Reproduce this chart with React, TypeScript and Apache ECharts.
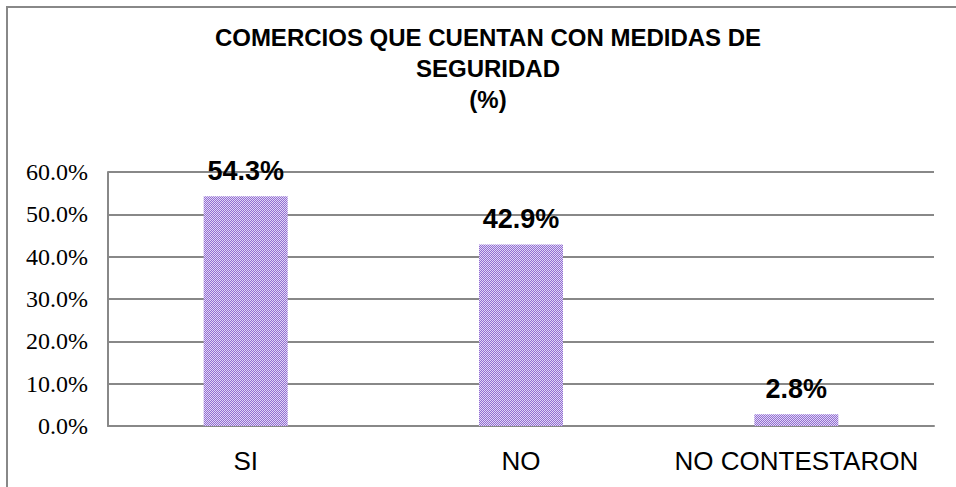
import React, { useEffect, useRef } from "react";
import * as echarts from "echarts";

const categories = ["SI", "NO", "NO CONTESTARON"];
const values = [54.3, 42.9, 2.8];
const yTicks = [0, 10, 20, 30, 40, 50, 60];

function makePattern(): HTMLCanvasElement {
  const c = document.createElement("canvas");
  c.width = 4;
  c.height = 4;
  const ctx = c.getContext("2d")!;
  ctx.fillStyle = "#e2d6f7";
  ctx.fillRect(0, 0, 4, 4);
  ctx.fillStyle = "#9270d0";
  for (let i = 0; i < 4; i++) {
    ctx.fillRect(i, 3 - i, 1, 1);
    ctx.fillRect((i + 2) % 4, 3 - i, 1, 1);
  }
  return c;
}

export default function App() {
  const ref = useRef<HTMLDivElement>(null);
  useEffect(() => {
    if (!ref.current) return;
    const chart = echarts.init(ref.current, undefined, { renderer: "svg" });
    const pattern = makePattern();
    chart.setOption({
      animation: false,
      backgroundColor: "#ffffff",
      title: {
        text: "COMERCIOS QUE CUENTAN CON MEDIDAS DE\nSEGURIDAD\n(%)",
        left: 483,
        top: 17,
        textAlign: "center",
        textStyle: {
          fontFamily: "Liberation Sans",
          fontWeight: "bold",
          fontSize: 24,
          lineHeight: 31,
          color: "#000",
        },
      },
      graphic: [
        {
          type: "rect",
          shape: { x: 7, y: 7, width: 970, height: 500 },
          style: { fill: "none", stroke: "#888888", lineWidth: 2 },
          silent: true,
        },
      ],
      grid: { left: 108, right: 22, top: 172, bottom: 61 },
      xAxis: {
        type: "category",
        data: categories,
        axisLine: { show: true, lineStyle: { color: "#888888", width: 2 } },
        axisTick: { show: false },
        axisLabel: {
          interval: 0,
          hideOverlap: false,
          fontFamily: "Liberation Sans",
          fontSize: 26,
          color: "#000",
          margin: 22,
        },
      },
      yAxis: {
        type: "value",
        min: yTicks[0],
        max: yTicks[yTicks.length - 1],
        interval: 10,
        axisLine: { show: true, lineStyle: { color: "#888888", width: 2 } },
        axisTick: { show: false },
        splitLine: { show: true, lineStyle: { color: "#888888", width: 2 } },
        axisLabel: {
          fontFamily: "Liberation Serif",
          fontSize: 24,
          color: "#000",
          margin: 20,
          formatter: (v: number) => v.toFixed(1) + "%",
        },
      },
      series: [
        {
          type: "bar",
          data: values,
          barWidth: 84,
          itemStyle: { color: { image: pattern, repeat: "repeat" } },
          label: {
            show: true,
            position: "top",
            distance: 12,
            fontFamily: "Liberation Sans",
            fontWeight: "bold",
            fontSize: 27,
            color: "#000",
            formatter: (p: any) => p.value.toFixed(1) + "%",
          },
        },
      ],
    });
    return () => chart.dispose();
  }, []);
  return (
    <div
      ref={ref}
      style={{ position: "fixed", left: 0, top: 0, width: 956, height: 487 }}
    />
  );
}
